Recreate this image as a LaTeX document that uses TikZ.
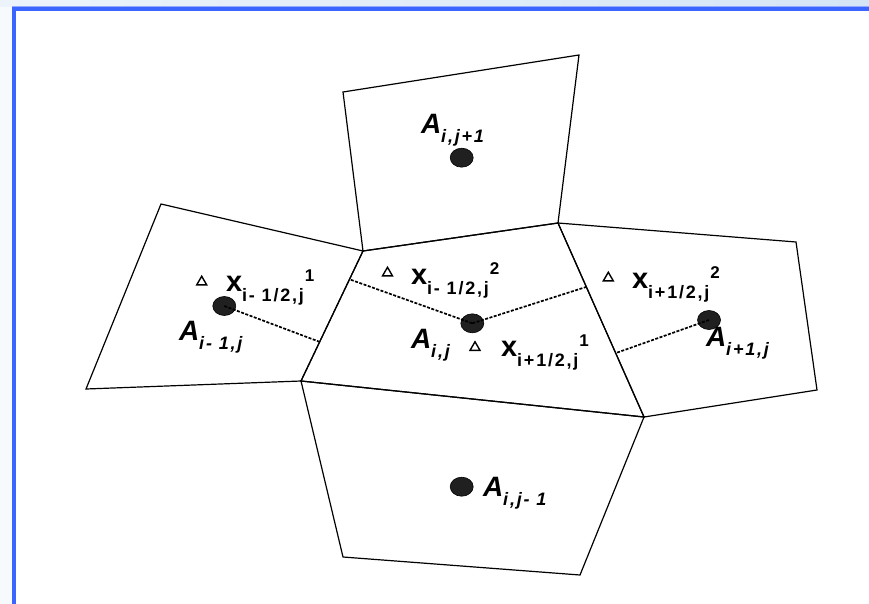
\documentclass[tikz,border=0pt]{standalone}
\usepackage{fontspec}
\setmainfont{Liberation Sans}
\newfontfamily\subf[LetterSpace=10]{Liberation Sans}
\usetikzlibrary{shapes.geometric}
\definecolor{frameblue}{RGB}{58,102,255}
\definecolor{skyA}{RGB}{236,243,250}
\definecolor{skyB}{RGB}{212,229,246}
\definecolor{leftbg}{RGB}{247,250,252}
\definecolor{dotfill}{RGB}{32,32,32}
\newcommand\bigf{\fontsize{29}{29}\selectfont\bfseries}
\newcommand\smf{\fontsize{18}{18}\selectfont\bfseries}
\newcommand\supf{\fontsize{17}{17}\selectfont\bfseries}
\newcommand\xlab[2]{{\bigf x}\raisebox{-10pt}{\subf\smf #1}\hspace{1pt}\raisebox{10pt}{\supf #2}}
\newcommand\alab[1]{{\fontsize{28}{28}\selectfont\bfseries\itshape A}\raisebox{-9pt}{\subf\smf\itshape #1}}
\begin{document}
\begin{tikzpicture}[x=1pt,y=-1pt,
  cell/.style={draw=black,line width=1.2pt,line join=miter},
  dot/.style={ellipse,draw=black,fill=dotfill,minimum width=23pt,minimum height=19pt,inner sep=0pt,line width=0.6pt},
  link/.style={draw=black,line width=1.7pt,dash pattern=on 3pt off 1.5pt},
  tri/.style={regular polygon,regular polygon sides=3,draw=black,line width=1.4pt,minimum size=11.5pt,inner sep=0pt},
  lab/.style={anchor=base west,inner sep=0pt,outer sep=0pt}]
\useasboundingbox (0,0) rectangle (869,604);
% background and frame
\fill[white] (0,0) rectangle (869,604);
\shade[left color=skyA,right color=skyB] (0,0) rectangle (869,7);
\fill[leftbg] (0,7) rectangle (12,604);
\draw[frameblue!55,line width=1pt] (12,6.2) -- (869,6.2);
\draw[frameblue,line width=4pt] (14,604) -- (14,8.7) -- (869,8.7);
% vertices
\coordinate (t1) at (343,92);
\coordinate (t2) at (579,55);
\coordinate (c2) at (558,223);
\coordinate (c1) at (363,251);
\coordinate (l1) at (161,204);
\coordinate (l4) at (86,389);
\coordinate (c4) at (301,381);
\coordinate (c3) at (644,417);
\coordinate (r2) at (796,242);
\coordinate (r3) at (817,390);
\coordinate (b3) at (580,575);
\coordinate (b4) at (343,557);
% cells
\draw[cell] (t1) -- (t2) -- (c2) -- (c1) -- cycle;
\draw[cell] (l1) -- (c1) -- (c4) -- (l4) -- cycle;
\draw[cell] (c1) -- (c2) -- (c3) -- (c4) -- cycle;
\draw[cell] (c2) -- (r2) -- (r3) -- (c3) -- cycle;
\draw[cell] (c4) -- (c3) -- (b3) -- (b4) -- cycle;
% face points
\coordinate (fl) at (320,342);
\coordinate (fcl) at (350,279.5);
\coordinate (fcr) at (586,287);
\coordinate (fr) at (616,353);
% dashed connectors
\node[dot] (dl) at (224.3,306) {};
\node[dot] (dc) at (472.3,323.3) {};
\node[dot] (dr) at (709,320) {};
\node[dot] (dt) at (461.7,157.7) {};
\node[dot] (db) at (461.7,486.7) {};
\draw[link] (dl.center) -- (fl);
\draw[link] (dc.center) -- (fcl);
\draw[link] (dc.center) -- (fcr);
\draw[link] (dr.center) -- (fr);
% triangles
\node[tri] (tl) at (201.7,282) {};
\node[tri] (tcu) at (387.5,273) {};
\node[tri] (tcl) at (475,347.5) {};
\node[tri] (tr) at (608.3,278) {};
% labels
\node[lab] (xl1) at (226,291.5) {\xlab{i- 1/2,j}{1}};
\node[lab] (xc2) at (411,284) {\xlab{i- 1/2,j}{2}};
\node[lab] (xc1) at (501,356.5) {\xlab{i+1/2,j}{1}};
\node[lab] (xr2) at (632,288) {\xlab{i+1/2,j}{2}};
\node[lab] (al) at (179,340) {\alab{i- 1,j}};
\node[lab] (ac) at (411,348.3) {\alab{i,j}};
\node[lab] (ar) at (706,346.7) {\alab{i+1,j}};
\node[lab] (at) at (421,133.3) {\alab{i,j+1}};
\node[lab] (ab) at (483,496.7) {\alab{i,j- 1}};
\end{tikzpicture}
\end{document}
